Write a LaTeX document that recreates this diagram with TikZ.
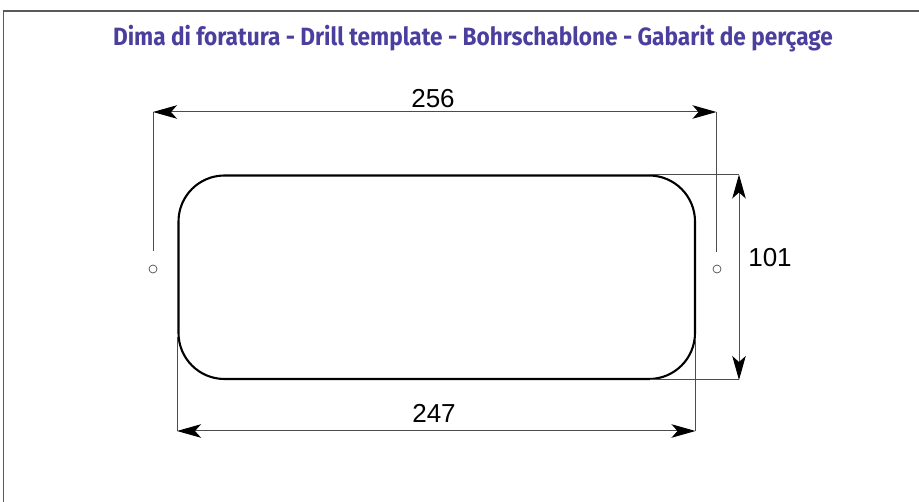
\documentclass[tikz,border=0pt]{standalone}
\usepackage{fontspec}
\setmainfont{Liberation Sans}
\newfontfamily\titlefont[FakeStretch=0.905]{Fira Sans}
\usetikzlibrary{arrows.meta}
\definecolor{titleblue}{HTML}{4B3F9E}
\tikzset{
  frameline/.style={draw=black!65,line width=1.2pt},
  outline/.style={draw=black,line width=2.1pt},
  extline/.style={draw=black!70,line width=1pt},
  dimline/.style={draw=black!70,line width=1pt,{Stealth[length=24pt,width=13.5pt,inset=6pt,color=black]}-{Stealth[length=24pt,width=13.5pt,inset=6pt,color=black]}},
  holemark/.style={circle,draw=black!70,line width=0.7pt,minimum size=8pt,inner sep=0pt},
  dimlabel/.style={font=\fontsize{26}{30}\selectfont,text=black,inner sep=0pt},
  titlelabel/.style={font=\titlefont\bfseries\fontsize{25}{30}\selectfont,text=titleblue,inner sep=0pt}
}
\begin{document}
\begin{tikzpicture}[x=1pt,y=-1pt]
\useasboundingbox (0,0) rectangle (919,502);
\coordinate (fb) at (3.5,502);
\coordinate (ft) at (3.5,11);
\coordinate (fr) at (919,11);
\draw[frameline] (fb) -- (ft) -- (fr);
\node[titlelabel] (title) at (473,39) {Dima di foratura - Drill template - Bohrschablone - Gabarit de perçage};
\draw[outline,rounded corners=46pt] (178.5,175.5) rectangle (695,379);
\node[holemark] (hl) at (153,269) {};
\node[holemark] (hr) at (717,269) {};
\coordinate (tl) at (153,112);
\coordinate (tr) at (716.5,112);
\coordinate (hle) at (153,251);
\coordinate (hre) at (716.5,252);
\draw[extline] (tl) -- (hle);
\draw[extline] (tr) -- (hre);
\draw[dimline] (tl) -- (tr);
\node[dimlabel] (l256) at (433,99) {256};
\coordinate (rt0) at (650,174.5);
\coordinate (rt) at (739,174.5);
\coordinate (rb0) at (650,380);
\coordinate (rb) at (739,380);
\draw[extline] (rt0) -- (rt);
\draw[extline] (rb0) -- (rb);
\draw[dimline] (rt) -- (rb);
\node[dimlabel] (l101) at (770,258) {101};
\coordinate (bl0) at (177,337);
\coordinate (bl) at (177,431);
\coordinate (br0) at (695.5,340);
\coordinate (br) at (695.5,431);
\draw[extline] (bl0) -- (bl);
\draw[extline] (br0) -- (br);
\draw[dimline] (bl) -- (br);
\node[dimlabel] (l247) at (434,413) {247};
\end{tikzpicture}
\end{document}
